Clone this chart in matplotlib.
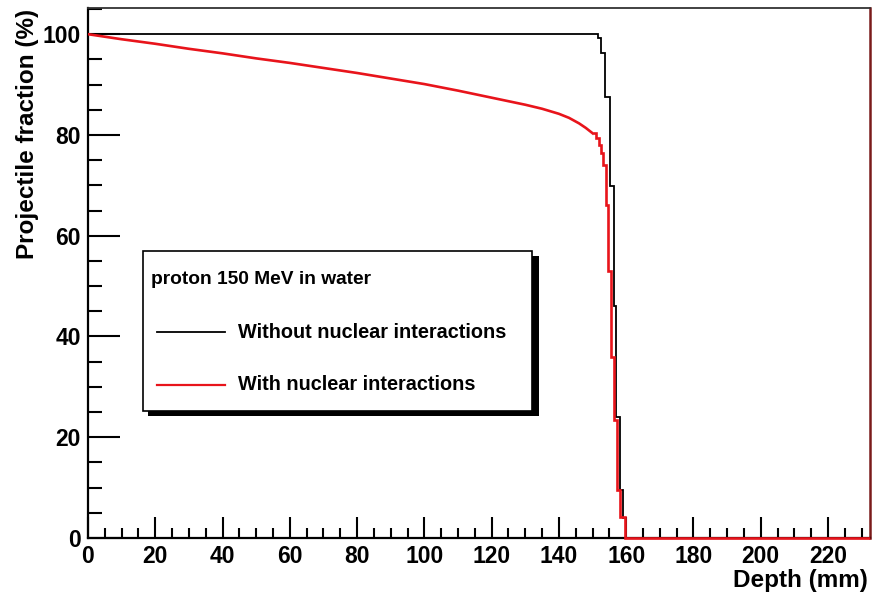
import numpy as np
import matplotlib
matplotlib.use("Agg")
from matplotlib import pyplot as plt
from matplotlib.patches import Rectangle
from matplotlib.lines import Line2D
from matplotlib.ticker import MultipleLocator

plt.rcParams['font.family'] = ['Liberation Sans', 'DejaVu Sans']
plt.rcParams['font.weight'] = 'bold'

# without nuclear interactions (histogram, edges in mm)
black_edges = [0, 151.6, 152.6, 153.6, 155.2, 156.4, 157.1, 158.1, 159.1, 160.1, 232.5]
black_vals = [100, 99.2, 96.2, 87.6, 69.8, 46.0, 24.0, 9.5, 4.0, 0.0]

# with nuclear interactions, smooth part
red_depth = [0, 10, 20, 30, 40, 50, 60, 70, 80, 90, 100, 110, 120, 130, 135, 140, 143, 146, 148, 150.1]
red_frac = [100, 99.0, 98.1, 97.1, 96.2, 95.2, 94.3, 93.3, 92.3, 91.2, 90.1, 88.8, 87.4,
            86.0, 85.2, 84.2, 83.4, 82.3, 81.4, 80.3]
# with nuclear interactions, falloff (histogram)
red_edges = [150.1, 151.1, 152.0, 152.6, 153.1, 153.9, 154.6, 155.4, 156.3, 157.4, 158.3, 159.6, 232.5]
red_vals = [80.3, 79.4, 78.0, 76.4, 74.0, 66.0, 53.0, 36.0, 23.4, 9.5, 4.2, 0.0]

W, H = 873, 596
fig = plt.figure(figsize=(W / 100, H / 100), dpi=100)
ax = fig.add_axes([88 / W, 1 - 538 / H, (870 - 88) / W, (538 - 8) / H])

ax.stairs(black_vals, black_edges, baseline=None, color='black', lw=1.3, zorder=3)
ax.plot(red_depth, red_frac, color='#e8141b', lw=1.9, zorder=4)
ax.stairs(red_vals, red_edges, baseline=None, color='#e8141b', lw=1.9, zorder=4, clip_on=False)

ax.set_xlim(0, 232.5)
ax.set_ylim(0, 105.2)

ax.xaxis.set_major_locator(MultipleLocator(20))
ax.xaxis.set_minor_locator(MultipleLocator(5))
ax.yaxis.set_major_locator(MultipleLocator(20))
ax.yaxis.set_minor_locator(MultipleLocator(5))
ax.tick_params(axis='y', which='major', direction='in', length=23, width=1.5, labelsize=16.5, pad=5)
ax.tick_params(axis='y', which='minor', direction='in', length=10, width=1.5)
ax.tick_params(axis='x', which='major', direction='in', length=15, width=1.5, labelsize=16.5, pad=5)
ax.tick_params(axis='x', which='minor', direction='in', length=7, width=1.5)
for lab in ax.get_xticklabels() + ax.get_yticklabels():
    lab.set_fontweight('bold')

for s in ['left', 'bottom']:
    ax.spines[s].set_linewidth(1.6)
ax.spines['top'].set_linewidth(1.3)
ax.spines['top'].set_color('#333333')
ax.spines['right'].set_linewidth(1.8)
ax.spines['right'].set_color('#7a1a1a')

fig.text(28 / W, 1 - 9 / H, 'Projectile fraction (%)', rotation=90, ha='center', va='top',
         fontsize=17.5, fontweight='bold')
fig.text(868 / W, 1 - 580 / H, 'Depth (mm)', ha='right', va='center', fontsize=17.5, fontweight='bold')

# legend box with shadow (pixel coordinates)
def fx(px):
    return px / W

def fy(py):
    return 1 - py / H

fig.patches.append(Rectangle((fx(148), fy(416)), fx(539) - fx(148), fy(256) - fy(416),
                             transform=fig.transFigure, facecolor='black', edgecolor='none', zorder=5))
fig.patches.append(Rectangle((fx(143), fy(411)), fx(532) - fx(143), fy(251) - fy(411),
                             transform=fig.transFigure, facecolor='white', edgecolor='black',
                             lw=1.2, zorder=6))
fig.text(fx(151), fy(279), 'proton 150 MeV in water', ha='left', va='center', fontsize=13.8,
         fontweight='bold', zorder=7)
fig.lines.append(Line2D([fx(157), fx(225)], [fy(332), fy(332)], transform=fig.transFigure,
                        color='black', lw=1.3, zorder=7))
fig.lines.append(Line2D([fx(157), fx(225)], [fy(385), fy(385)], transform=fig.transFigure,
                        color='#e8141b', lw=1.6, zorder=7))
fig.text(fx(238), fy(333), 'Without nuclear interactions', ha='left', va='center', fontsize=14.3,
         fontweight='bold', zorder=7)
fig.text(fx(238), fy(385), 'With nuclear interactions', ha='left', va='center', fontsize=14.3,
         fontweight='bold', zorder=7)

fig.savefig('out.png', dpi=100)
